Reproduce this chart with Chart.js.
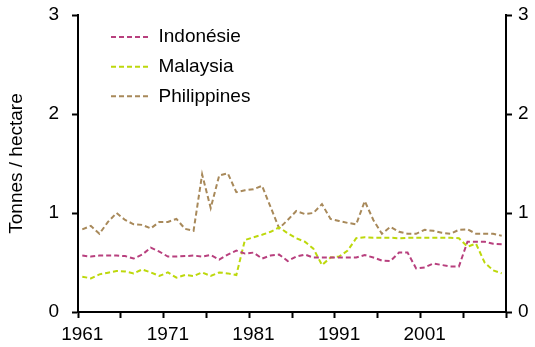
<!DOCTYPE html>
<html>
<head>
<meta charset="utf-8">
<script src="https://cdn.jsdelivr.net/npm/chart.js@4/dist/chart.umd.min.js"></script>
<style>
html,body{margin:0;padding:0;background:#fff;}
#wrap{position:relative;width:535px;height:347px;}
</style>
</head>
<body>
<div id="wrap"><canvas id="c" width="535" height="347"></canvas></div>
<script>
const years = ['1961','1962','1963','1964','1965','1966','1967','1968','1969','1970',
  '1971','1972','1973','1974','1975','1976','1977','1978','1979','1980',
  '1981','1982','1983','1984','1985','1986','1987','1988','1989','1990',
  '1991','1992','1993','1994','1995','1996','1997','1998','1999','2000',
  '2001','2002','2003','2004','2005','2006','2007','2008','2009','2010'];

const indonesie = [0.57,0.56,0.57,0.57,0.57,0.565,0.54,0.58,0.65,0.61,
  0.56,0.56,0.565,0.57,0.56,0.575,0.53,0.58,0.62,0.59,
  0.60,0.54,0.57,0.58,0.515,0.56,0.58,0.55,0.55,0.55,
  0.55,0.55,0.55,0.575,0.55,0.52,0.515,0.60,0.60,0.44,
  0.45,0.49,0.475,0.46,0.46,0.71,0.71,0.71,0.69,0.685];

const malaysia = [0.357,0.34,0.38,0.397,0.414,0.41,0.39,0.43,0.40,0.364,
  0.40,0.347,0.374,0.364,0.40,0.364,0.40,0.39,0.374,0.727,
  0.755,0.78,0.81,0.855,0.795,0.745,0.71,0.64,0.475,0.55,
  0.56,0.62,0.745,0.755,0.75,0.75,0.75,0.745,0.75,0.75,
  0.75,0.75,0.75,0.75,0.745,0.66,0.69,0.50,0.42,0.39];

const philippines = [0.835,0.87,0.79,0.91,1.0,0.93,0.886,0.88,0.845,0.91,
  0.91,0.94,0.84,0.82,1.39,1.05,1.38,1.40,1.21,1.23,
  1.24,1.275,1.06,0.845,0.93,1.02,0.99,1.0,1.09,0.94,
  0.92,0.90,0.886,1.12,0.93,0.79,0.86,0.81,0.79,0.79,
  0.83,0.82,0.80,0.79,0.83,0.835,0.79,0.79,0.79,0.77];

const xTickLabels = ['1961','1971','1981','1991','2001'];
const yTickValues = [0, 1, 2, 3];
const seriesNames = ['Indonésie', 'Malaysia', 'Philippines'];
const yTitle = 'Tonnes / hectare';

const FONT = {family: '"Liberation Sans", Arial, sans-serif', size: 19};
const colors = ['#B8407E', '#BDD80C', '#A8895A'];
const DASH = [5, 3];

function ds(label, data, color) {
  return {
    label: label, data: data, borderColor: color, backgroundColor: color,
    borderWidth: 2, borderDash: DASH, pointRadius: 0, tension: 0, fill: false,
    yAxisID: 'y'
  };
}

const legendShift = {
  id: 'legendShift',
  afterLayout(chart) {
    const lg = chart.legend;
    if (!lg) return;
    const ca = chart.chartArea;
    lg.left = ca.left + 22.4;
    lg.right = lg.left + lg.width;
    lg.top = ca.top + 2;
    lg.bottom = lg.top + lg.height;
  }
};

function yAxis(position, width, pad, withTitle) {
  return {
    type: 'linear', min: 0, max: 3, position: position,
    afterBuildTicks(scale) { scale.ticks = yTickValues.map(v => ({value: v})); },
    afterFit(scale) { scale.width = width; scale.paddingTop = 0; scale.paddingBottom = 0; },
    grid: { drawOnChartArea: false, drawTicks: true, tickLength: 6, tickWidth: 2, tickColor: '#000' },
    border: { display: true, color: '#000', width: 2 },
    ticks: { color: '#000', font: FONT, padding: pad },
    title: { display: withTitle, text: yTitle, color: '#000', font: FONT, padding: { top: 5, bottom: 0 } }
  };
}

new Chart(document.getElementById('c'), {
  type: 'line',
  data: {
    labels: years,
    datasets: [
      ds(seriesNames[0], indonesie, colors[0]),
      ds(seriesNames[1], malaysia, colors[1]),
      ds(seriesNames[2], philippines, colors[2])
    ]
  },
  options: {
    responsive: false,
    animation: false,
    devicePixelRatio: 1,
    layout: { padding: { left: 0, right: 0, top: 15, bottom: 0 } },
    scales: {
      x: {
        type: 'category',
        offset: true,
        afterFit(scale) { scale.height = 35; },
        grid: {
          offset: true, drawOnChartArea: false, drawTicks: true, tickLength: 6, tickWidth: 2,
          tickColor: (ctx) => (ctx.index === undefined || ctx.index % 5 === 0) ? '#000' : 'rgba(0,0,0,0)'
        },
        border: { display: true, color: '#000', width: 2 },
        ticks: {
          autoSkip: false, maxRotation: 0, minRotation: 0, color: '#000', font: FONT, padding: 5,
          callback: function(value) {
            const lab = this.getLabelForValue(value);
            return xTickLabels.includes(lab) ? lab : '';
          }
        }
      },
      y: yAxis('left', 78, 13, true),
      y2: yAxis('right', 29, 6, false)
    },
    plugins: {
      title: { display: false },
      tooltip: { enabled: false },
      legend: {
        display: true,
        position: 'chartArea',
        align: 'start',
        labels: {
          color: '#000', font: FONT, usePointStyle: true, pointStyle: 'line',
          pointStyleWidth: 38, boxHeight: 19, padding: 10.6,
          generateLabels(chart) {
            const items = Chart.defaults.plugins.legend.labels.generateLabels(chart);
            items.forEach((it) => {
              const d = chart.data.datasets[it.datasetIndex];
              it.lineDash = d.borderDash;
              it.strokeStyle = d.borderColor;
              it.lineWidth = d.borderWidth;
            });
            return items;
          }
        }
      }
    }
  },
  plugins: [legendShift]
});
</script>
</body>
</html>
